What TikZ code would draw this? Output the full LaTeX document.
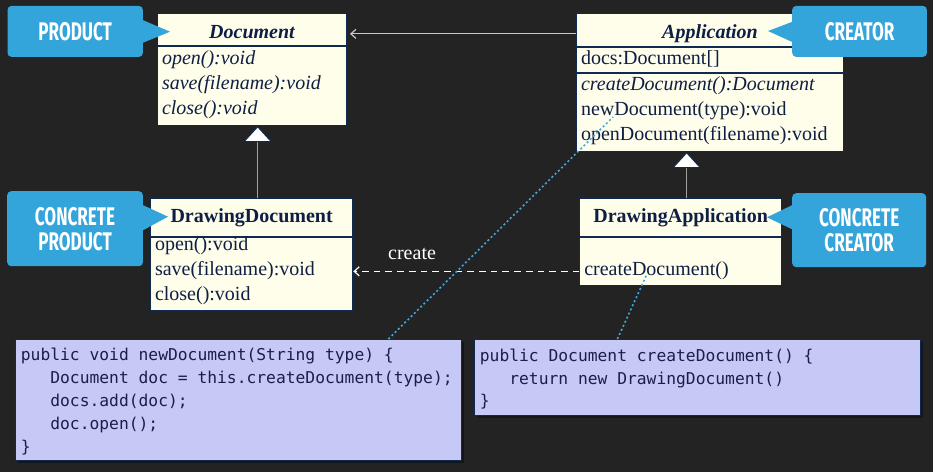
\documentclass[tikz,border=0pt]{standalone}
\usepackage{fontspec}
\usetikzlibrary{arrows.meta,shadows}

\newfontfamily\umlfont{Liberation Serif}
\newfontfamily\codefont{DejaVu Sans Mono}
\newfontfamily\callfont[FakeStretch=0.67]{Fira Sans}
\newcommand\codetype{\codefont\fontsize{16.3}{22.8}\selectfont}
% one code blank, as wide as one character
\newcommand\csp{\hspace{0.602em}}

\definecolor{bgdark}{HTML}{232323}
\definecolor{classfill}{HTML}{FEFEEB}
\definecolor{classline}{HTML}{0E2A50}
\definecolor{classtext}{HTML}{0F1E44}
\definecolor{callblue}{HTML}{34A5DA}
\definecolor{codefill}{HTML}{C6C8F6}
\definecolor{codetext}{HTML}{1B1E4B}
\definecolor{linkgray}{HTML}{A0A0A0}
\definecolor{assocgray}{HTML}{C8C8C8}
\definecolor{notedot}{HTML}{3FA9E0}

\tikzset{
  classhead/.style = {draw = classline, fill = classfill, line width = 1pt, inner sep = 0pt,
    anchor = north west, text = classtext, font = \umlfont\bfseries\fontsize{20}{25}\selectfont},
  classbody/.style = {draw = classline, fill = classfill, line width = 1pt, inner xsep = 4.5pt,
    inner ysep = 0pt, anchor = north west, align = left, text = classtext,
    font = \umlfont\fontsize{20}{25}\selectfont},
  calloutbox/.style = {fill = callblue, rounded corners = 4pt, inner sep = 0pt, anchor = north west,
    align = center, text = white, font = \callfont\bfseries\fontsize{25.5}{25}\selectfont},
  inherit/.style = {draw = linkgray, line width = 1.4pt,
    -{Triangle[length = 16pt, width = 29pt, fill = white, color = classline, line width = 1pt]}},
  assoc/.style = {draw = assocgray, line width = 1.2pt, -{Straight Barb[length = 5pt, width = 9pt]},
    shorten > = 3pt},
  createdep/.style = {draw = white, line width = 1.2pt, dash pattern = on 6.7pt off 5pt,
    -{Straight Barb[length = 5pt, width = 9pt]}},
  noteline/.style = {draw = notedot, line width = 1.6pt, dash pattern = on 2pt off 2.5pt},
  codebox/.style = {draw = classline, fill = codefill, line width = 0.8pt, anchor = north west,
    inner xsep = 5.5pt, text width = 435pt, align = left, text = codetext, font = \codetype,
    drop shadow = {shadow xshift = 3pt, shadow yshift = -3pt, opacity = 0.35, fill = black}}
}

\begin{document}
\begin{tikzpicture}[x = 1pt, y = -1pt]
  \useasboundingbox (0,0) rectangle (933,472);
  \fill[bgdark] (0,0) rectangle (933,472);

  % product side
  \node[classhead, minimum width = 189pt, minimum height = 32.3pt, text height = 20pt, text depth = 2pt]
    (dochead) at (157,12.7) {\itshape Document};
  \node[classbody, minimum width = 189pt, text width = 180pt, text height = 18pt, text depth = 61pt]
    (docops) at (dochead.south west) {\itshape open():void\\save(filename):void\\close():void};

  \node[classhead, minimum width = 202.3pt, minimum height = 38.3pt, text height = 14.5pt, text depth = 4pt]
    (drawdochead) at (150,197.7) {DrawingDocument};
  \node[classbody, minimum width = 202.3pt, text width = 193.3pt, text height = 13pt, text depth = 60pt]
    (drawdocops) at (drawdochead.south west) {open():void\\save(filename):void\\close():void};

  % creator side
  \node[classhead, minimum width = 267pt, minimum height = 32.7pt, text height = 20pt, text depth = 2pt]
    (apphead) at (576,13) {\itshape Application};
  \node[classbody, minimum width = 267pt, text width = 258pt, text height = 17.3pt, text depth = 7.7pt]
    (appattr) at (apphead.south west) {docs:Document[]};
  \node[classbody, minimum width = 267pt, text width = 258pt, text height = 17.3pt, text depth = 61pt]
    (appops) at (appattr.south west) {\textit{createDocument():Document}\\
      newDocument(type):void\\
      openDocument(filename):void};

  \node[classhead, minimum width = 201.7pt, minimum height = 37.7pt, text height = 14.5pt, text depth = 4pt]
    (drawapphead) at (579.3,198.3) {DrawingApplication};
  \node[classbody, minimum width = 201.7pt, text width = 192.7pt, text height = 38.3pt, text depth = 9.4pt]
    (drawappops) at (drawapphead.south west) {createDocument()};

  % relations
  \draw[inherit] ([xshift = 6pt]drawdochead.north) -- ([xshift = 6pt]drawdochead.north |- docops.south);
  \draw[inherit] ([xshift = 6pt]drawapphead.north) -- ([xshift = 6pt]drawapphead.north |- appops.south);
  \draw[assoc] ([yshift = -4pt]apphead.west) -- ([yshift = -4pt]apphead.west -| dochead.east);
  \draw[createdep] ([yshift = -10pt]drawappops.west) -- ([yshift = -10pt]drawappops.west -| drawdocops.east)
    node[pos = 0.74, above = 11pt, inner sep = 0pt, text = white,
      font = \umlfont\fontsize{20}{25}\selectfont] (createlbl) {create};

  % callouts
  \node[calloutbox, minimum width = 135.4pt, minimum height = 51pt] (prod) at (7.3,5.7) {PRODUCT};
  \fill[callblue] ([yshift = 11.2pt]prod.east) -- (170,31.7) -- ([yshift = -11.3pt]prod.east) -- cycle;
  \node[calloutbox, minimum width = 134.7pt, minimum height = 51pt] (creator) at (792,5.7) {CREATOR};
  \fill[callblue] ([yshift = 9.5pt]creator.west) -- (768,31) -- ([yshift = -10.5pt]creator.west) -- cycle;
  \node[calloutbox, minimum width = 135.7pt, minimum height = 75pt] (cprod) at (7,191) {CONCRETE\\PRODUCT};
  \fill[callblue] ([yshift = 23.5pt]cprod.east) -- (168,216.7) -- ([yshift = -1.5pt]cprod.east) -- cycle;
  \node[calloutbox, minimum width = 134pt, minimum height = 74pt] (ccreator) at (792,193) {CONCRETE\\CREATOR};
  \fill[callblue] ([yshift = 25pt]ccreator.west) -- (767,217.3) -- ([yshift = 1pt]ccreator.west) -- cycle;

  % code notes
  \node[codebox, minimum height = 121pt] (newdoccode) at (15,339) {\strut public\csp void\csp newDocument(String\csp type)\csp\{\\
    \phantom{xxx}Document\csp doc\csp=\csp this.createDocument(type);\\
    \phantom{xxx}docs.add(doc);\\
    \phantom{xxx}doc.open();\\
    \}};
  \node[codebox, minimum height = 76pt] (createcode) at (474,339) {\strut public\csp Document\csp createDocument()\csp\{\\
    \phantom{xxx}return\csp new\csp DrawingDocument()\\
    \}};

  \coordinate (newdocref) at (613,117);
  \coordinate (createref) at (647,274);
  \draw[noteline] ([xshift = 150pt]newdoccode.north) -- (newdocref);
  \draw[noteline] ([xshift = -80pt]createcode.north) -- (createref);
\end{tikzpicture}
\end{document}
